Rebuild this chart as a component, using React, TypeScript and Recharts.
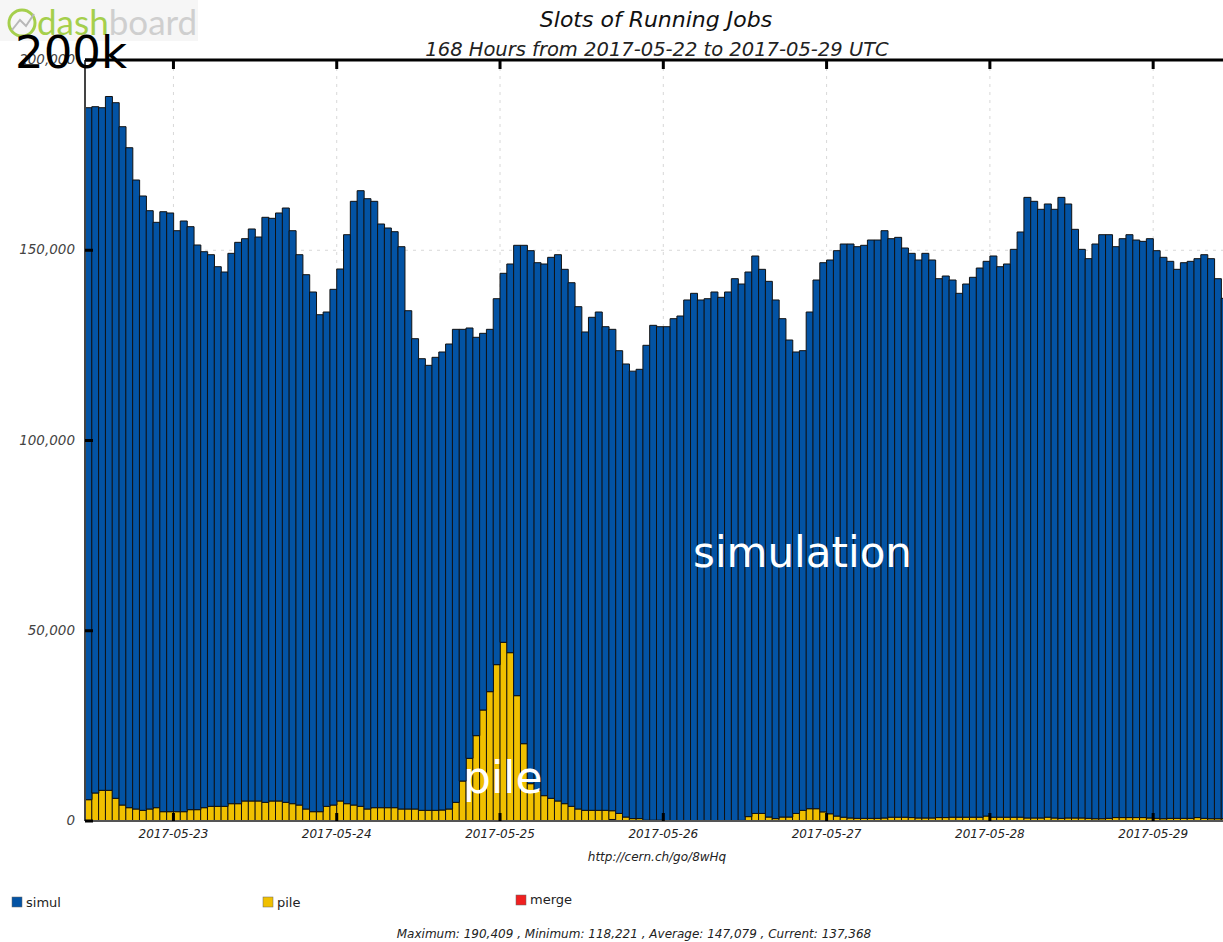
import React from 'react';
import { BarChart, Bar, XAxis, YAxis, CartesianGrid } from 'recharts';

// hourly totals (all activities) from 2017-05-22 11:00 UTC, 168 hours
const totalJobs = [
  187460, 187730, 187460, 190409, 188780, 182470, 176950, 168460, 164260, 160400, 157340, 160130,
  159790, 155140, 157690, 156200, 151380, 149620, 148830, 145680, 144280, 149190, 152080, 153040,
  155590, 153480, 158660, 158390, 159790, 161100, 155140, 148830, 143580, 139030, 133060, 133770,
  139730, 145070, 154090, 162860, 165650, 163550, 162860, 156900, 155850, 154880, 150940, 134110,
  126760, 121500, 119760, 121860, 123260, 125360, 129220, 129220, 129570, 127120, 128170, 129220,
  137270, 143940, 146390, 151300, 151300, 149890, 146730, 146390, 148140, 148830, 144990, 141470,
  135170, 128520, 132380, 133770, 129910, 129220, 123600, 120110, 118221, 118710, 125020, 130270,
  129910, 129910, 132020, 132720, 136930, 138680, 136930, 137270, 139030, 137630, 139030, 142530,
  141130, 144280, 148490, 144990, 141830, 136930, 132020, 126410, 123260, 123610, 133770, 142180,
  146730, 147440, 149890, 151640, 151640, 150940, 151300, 152690, 152690, 155140, 153040, 153390,
  150590, 149190, 147440, 149190, 147440, 142530, 143230, 142180, 138680, 141130, 142890, 145330,
  147090, 148490, 145680, 146390, 150240, 154800, 163900, 162860, 160760, 162160, 160760, 163900,
  162160, 155500, 150240, 147790, 151640, 154090, 154090, 150940, 153040, 154090, 152690, 152340,
  153040, 149890, 148140, 147090, 144990, 146730, 147090, 147790, 148830, 147790, 142530, 137368,
];

const pileJobs = [
  5600, 7360, 8060, 8060, 5960, 4200, 3500, 3150, 2800, 3150, 3500, 2450,
  2450, 2450, 2450, 2980, 2980, 3500, 3850, 3850, 3850, 4550, 4550, 5260,
  5260, 5260, 4900, 5260, 5260, 4900, 4550, 4200, 3150, 2450, 2450, 3850,
  4200, 5260, 4550, 4200, 3850, 3150, 3500, 3500, 3500, 3500, 3150, 3150,
  3150, 2800, 2800, 2800, 2890, 3150, 4900, 10500, 16470, 22430, 29170, 33990,
  41090, 46960, 44240, 32940, 20320, 9810, 8060, 6660, 5960, 5260, 4555, 3855,
  3154, 2803, 2803, 2803, 2803, 2300, 1980, 1040, 630, 630, 210, 210,
  210, 100, 0, 0, 0, 0, 0, 0, 0, 0, 0, 0,
  150, 1150, 1980, 1980, 1040, 630, 1040, 1040, 1980, 2800, 3230, 3230,
  2400, 1900, 1300, 1000, 800, 700, 700, 700, 700, 800, 1000, 1000,
  1000, 900, 800, 800, 800, 900, 900, 1000, 1000, 1000, 1000, 1000,
  1300, 1000, 1000, 1000, 1000, 1000, 800, 800, 800, 1000, 800, 700,
  800, 800, 800, 700, 600, 600, 700, 900, 900, 900, 900, 900,
  800, 700, 600, 700, 700, 700, 700, 900, 700, 600, 600, 600,
];

const mergeJobs = [
  0, 0, 0, 0, 0, 0, 0, 0, 0, 0, 0, 0,
  0, 0, 0, 0, 0, 0, 0, 0, 0, 0, 0, 0,
  0, 0, 0, 0, 0, 0, 0, 0, 0, 0, 0, 0,
  0, 0, 0, 0, 0, 0, 0, 0, 0, 0, 0, 0,
  0, 0, 0, 0, 0, 0, 0, 0, 0, 0, 0, 0,
  0, 0, 0, 0, 0, 0, 0, 0, 0, 0, 0, 0,
  0, 0, 0, 0, 0, 400, 0, 0, 0, 0, 0, 0,
  0, 0, 0, 0, 0, 0, 0, 0, 0, 0, 0, 0,
  0, 0, 0, 0, 0, 0, 0, 0, 0, 0, 0, 0,
  0, 0, 0, 0, 0, 0, 0, 0, 0, 0, 0, 0,
  0, 0, 0, 0, 0, 0, 0, 0, 0, 0, 0, 0,
  0, 0, 0, 0, 0, 0, 0, 0, 0, 0, 0, 0,
  0, 0, 0, 0, 0, 0, 0, 0, 0, 0, 0, 0,
  0, 0, 0, 0, 0, 0, 0, 0, 0, 0, 0, 0,
];

const dayTicks = [13, 37, 61, 85, 109, 133, 157];
const dayLabels = ['2017-05-23', '2017-05-24', '2017-05-25', '2017-05-26', '2017-05-27', '2017-05-28', '2017-05-29'];
const yTicks = [0, 50000, 100000, 150000, 200000];
const yLabels = ['0', '50,000', '100,000', '150,000', '200,000'];

const BLUE = '#0353a4';
const YELLOW = '#f0c000';
const RED = '#f02020';

const data = totalJobs.map((total, i) => ({
  t: i + 0.5,
  merge: mergeJobs[i],
  pile: pileJobs[i],
  simul: total - pileJobs[i] - mergeJobs[i],
}));

const FONT = '"DejaVu Sans", sans-serif';

const BottomTick = (props: any) => {
  const { x, y, payload } = props;
  const label = dayLabels[dayTicks.indexOf(payload.value)];
  return (
    <g>
      <rect x={x - 1.5} y={y - 8} width={3} height={8} fill="#000" />
      <text x={x} y={y + 17} textAnchor="middle" fontSize={12} fontStyle="italic" fill="#222" fontFamily={FONT}>
        {label}
      </text>
    </g>
  );
};

const TopTick = (props: any) => {
  const { x, y } = props;
  return <rect x={x - 1.5} y={y} width={3} height={9} fill="#000" />;
};

const LeftTick = (props: any) => {
  const { x, y, payload } = props;
  const label = yLabels[yTicks.indexOf(payload.value)];
  return (
    <g>
      <rect x={x} y={y - 1.5} width={8} height={3} fill="#000" />
      <text x={x - 10} y={y + 4} textAnchor="end" fontSize={13.5} fontStyle="italic" fill="#444" fontFamily={FONT}>
        {label}
      </text>
    </g>
  );
};

export default function App() {
  return (
    <div style={{ position: 'absolute', left: 0, top: 0, width: 1223, height: 942, overflow: 'hidden', background: '#fff' }}>
      <BarChart
        width={1228}
        height={942}
        data={data}
        margin={{ top: 50, right: 0, bottom: 91, left: 0 }}
        barCategoryGap={0}
      >
        <CartesianGrid stroke="#d8d8d8" strokeDasharray="3 5" />
        <XAxis
          dataKey="t"
          type="number"
          domain={[0, 168]}
          ticks={dayTicks}
          height={30}
          tickSize={0}
          tickMargin={0}
          tick={<BottomTick />}
          axisLine={{ stroke: '#555', strokeWidth: 2 }}
          tickLine={false}
        />
        <XAxis
          xAxisId="top"
          dataKey="t"
          type="number"
          orientation="top"
          domain={[0, 168]}
          ticks={dayTicks}
          height={10}
          tickSize={0}
          tickMargin={0}
          tick={<TopTick />}
          axisLine={{ stroke: '#000', strokeWidth: 3 }}
          tickLine={false}
        />
        <YAxis
          width={85}
          domain={[0, 200000]}
          ticks={yTicks}
          tickSize={0}
          tickMargin={0}
          tick={<LeftTick />}
          axisLine={{ stroke: '#444', strokeWidth: 2 }}
          tickLine={false}
          allowDataOverflow
        />
        <Bar dataKey="merge" stackId="a" fill={RED} stroke="#111" strokeWidth={1} isAnimationActive={false} />
        <Bar dataKey="pile" stackId="a" fill={YELLOW} stroke="#111" strokeWidth={1} isAnimationActive={false} />
        <Bar dataKey="simul" stackId="a" fill={BLUE} stroke="#111" strokeWidth={1} isAnimationActive={false} />
      </BarChart>

      <svg width={1223} height={942} style={{ position: 'absolute', left: 0, top: 0, pointerEvents: 'none' }}>
        {/* logo */}
        <rect x={0} y={0} width={198} height={41} fill="#f6f6f6" />
        <circle cx={22} cy={23} r={13} fill="none" stroke="#a5cf4c" strokeWidth={3} />
        <path d="M12 30 L20 20 L26 26 L34 14" fill="none" stroke="#b8b8b8" strokeWidth={2} />
        <text x={37} y={35} fontSize={35} fontFamily='Lato, "DejaVu Sans", sans-serif' fill="#a5cf4c">
          dash<tspan fill="#cfcfcf">board</tspan>
        </text>
        <text x={15} y={68} fontSize={45} fontFamily={FONT} fill="#000">200k</text>

        {/* titles */}
        <text x={656} y={27} textAnchor="middle" fontSize={22} fontStyle="italic" fill="#111" fontFamily={FONT}>
          Slots of Running Jobs
        </text>
        <text x={657} y={56} textAnchor="middle" fontSize={19.5} fontStyle="italic" fill="#222" fontFamily={FONT}>
          168 Hours from 2017-05-22 to 2017-05-29 UTC
        </text>

        {/* annotations */}
        <text x={693} y={567} fontSize={42} fill="#fff" fontFamily={FONT}>simulation</text>
        <text x={463} y={793} fontSize={44} fill="#fff" fontFamily={FONT}>pile</text>

        {/* url */}
        <text x={657} y={861} textAnchor="middle" fontSize={12} fontStyle="italic" fill="#222" fontFamily={FONT}>
          http://cern.ch/go/8wHq
        </text>

        {/* legend */}
        <rect x={12} y={897} width={10} height={10} fill={BLUE} stroke="#666" strokeWidth={0.5} />
        <text x={26} y={907} fontSize={13} fill="#222" fontFamily={FONT}>simul</text>
        <rect x={263} y={897} width={10} height={10} fill={YELLOW} stroke="#666" strokeWidth={0.5} />
        <text x={277} y={907} fontSize={13} fill="#222" fontFamily={FONT}>pile</text>
        <rect x={516} y={895} width={10} height={10} fill={RED} stroke="#666" strokeWidth={0.5} />
        <text x={530} y={904} fontSize={13} fill="#222" fontFamily={FONT}>merge</text>

        {/* stats */}
        <text x={634} y={938} textAnchor="middle" fontSize={12} fontStyle="italic" fill="#222" fontFamily={FONT}>
          Maximum: 190,409 , Minimum: 118,221 , Average: 147,079 , Current: 137,368
        </text>
      </svg>
    </div>
  );
}
